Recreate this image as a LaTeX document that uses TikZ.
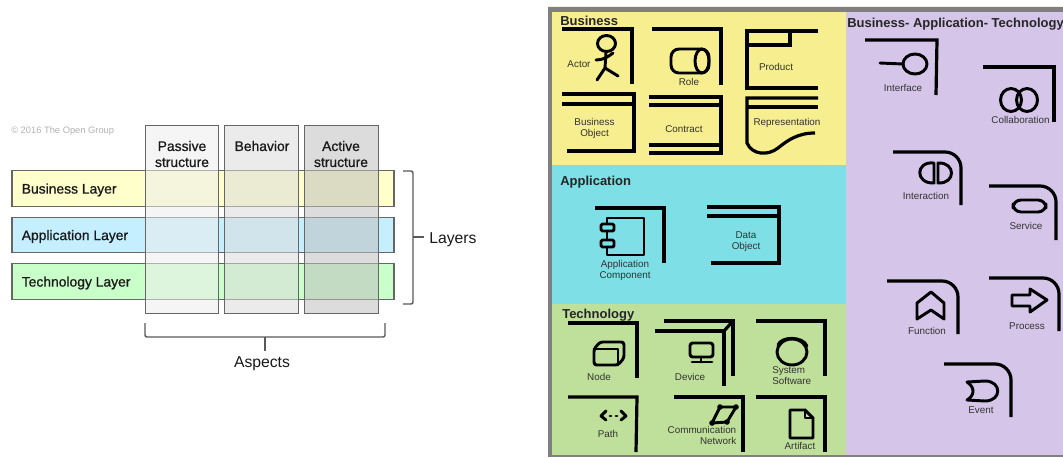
\documentclass[tikz,border=0pt]{standalone}
\usepackage{fontspec}
\setmainfont{Liberation Sans}
\newfontfamily\mediumfont[FakeBold=0.8]{Liberation Sans}
\usepackage{tikz}
\definecolor{BusinessFill}{HTML}{FFFFCC}
\definecolor{ApplicationFill}{HTML}{C5EEFF}
\definecolor{TechnologyFill}{HTML}{C9FFC9}
\definecolor{PanelYellow}{HTML}{F7EE8F}
\definecolor{PanelCyan}{HTML}{7EDFE6}
\definecolor{PanelGreen}{HTML}{BFE09A}
\definecolor{PanelPurple}{HTML}{D5C5E8}
\tikzset{
    LayerBox/.style={draw=black!60, line width=0.8pt, minimum width=286.5pt, minimum height=26.5pt, inner sep=0pt},
    AspectBox/.style={draw=black!60, line width=0.8pt, fill opacity=0.55, minimum width=55pt, minimum height=140.5pt, inner sep=0pt},
    DiagramText/.style={font={\fontsize{10.4pt}{12pt}\mediumfont\selectfont}, align=center, inner sep=0pt, text=black!90, yshift=-0.75pt},
    BigText/.style={font={\fontsize{11.8pt}{13pt}\selectfont}, inner sep=0pt, text=black!90, yshift=-0.75pt},
    BraceLine/.style={draw=black!65, line width=1.1pt, rounded corners=1.5pt},
    TitleText/.style={font={\fontsize{9.75pt}{11pt}\bfseries\selectfont}, inner sep=0pt, anchor=west, text=black!85, yshift=-0.5pt},
    Caption/.style={font={\fontsize{7.4pt}{8.25pt}\selectfont}, align=center, inner sep=0pt, text=black!80, yshift=-0.6pt},
    FrameLine/.style={draw=black, line width=2.4pt},
    RoundFrame/.style={draw=black, line width=2.4pt, rounded corners=12pt},
    IconLine/.style={draw=black, line width=2.2pt, line join=round, line cap=round}
}
\begin{document}
\begin{tikzpicture}[x=0.75pt, y=-0.75pt]
    \useasboundingbox (0,0) rectangle (1063,457);
    % Layers
    \node [LayerBox, fill=BusinessFill] (BusinessLayer) at (203,188.5) {};
    \node [LayerBox, fill=ApplicationFill] (ApplicationLayer) at (203,235) {};
    \node [LayerBox, fill=TechnologyFill] (TechnologyLayer) at (203,281.5) {};
    % Aspects
    \node [AspectBox, fill=black!7] (PassiveAspect) at (182,219.5) {};
    \node [AspectBox, fill=black!14] (BehaviorAspect) at (261.5,219.5) {};
    \node [AspectBox, fill=black!25] (ActiveAspect) at (341.5,219.5) {};
    % Left texts
    \node [DiagramText, anchor=west] (BusinessText) at (21.5,189) {Business Layer};
    \node [DiagramText, anchor=west] (ApplicationText) at (21.5,235.5) {Application Layer};
    \node [DiagramText, anchor=west] (TechnologyText) at (21.5,282) {Technology Layer};
    \node [DiagramText] (PassiveText) at (182,153) {Passive\\structure};
    \node [DiagramText] (BehaviorText) at (262,145) {Behavior};
    \node [DiagramText] (ActiveText) at (341,153) {Active\\structure};
    \node [font={\fontsize{7pt}{8pt}\selectfont}, text=black!30, anchor=west, inner sep=0pt] (CopyText) at (11,131) {© 2016 The Open Group};
    % Braces
    \draw [BraceLine] (403,171) -- (413,171) -- (413,304) -- (403,304);
    \coordinate (LayersTick) at (413,237);
    \node [BigText, anchor=west] (LayersText) at (429,239) {Layers};
    \draw [BraceLine] (LayersTick) -- (424,237);
    \draw [BraceLine] (145,323) -- (145,337) -- (385,337) -- (385,323);
    \coordinate (AspectsTick) at (265,337);
    \node [BigText] (AspectsText) at (262,363) {Aspects};
    \draw [BraceLine] (AspectsTick) -- (265,351);
    % Panels
    \fill [white!85!orange] (548,6) rectangle (1063,7);
    \fill [black!50] (548,7) rectangle (1063,12);
    \fill [black!50] (548,7) rectangle (552,457);
    \fill [PanelYellow] (552,12) rectangle (846,165);
    \fill [PanelCyan] (552,165) rectangle (846,304);
    \fill [PanelGreen] (552,304) rectangle (846,455);
    \fill [PanelPurple] (846,12) rectangle (1063,455);
    \fill [black!50] (552,455) rectangle (1063,457);
    \node [TitleText] (BusinessTitle) at (560,20) {Business};
    \node [TitleText] (ApplicationTitle) at (560,181) {Application};
    \node [TitleText] (TechnologyTitle) at (562,314) {Technology};
    \node [TitleText] (SharedTitle) at (847,23) {Business- Application- Technology};
    % Business
    \draw [FrameLine] (562,29) -- (632,29) -- (632,84);
    \draw [IconLine] (606.5,43.5) ellipse [x radius=9, y radius=8];
    \draw [IconLine] (606,52) -- (605,68) -- (597,80);
    \draw [IconLine] (605,68) -- (618,76);
    \draw [IconLine] (596,60) .. controls (603,60) and (608,57) .. (613,53);
    \node [Caption] (ActorText) at (579,63) {Actor};
    \draw [FrameLine] (652,29) -- (721,29) -- (721,85);
    \draw [IconLine, rounded corners=6pt] (671,49) rectangle (709,73);
    \draw [IconLine] (702,61) ellipse [x radius=7, y radius=12];
    \node [Caption] (RoleText) at (689,81) {Role};
    \draw [FrameLine] (818,31) -- (747,31) -- (747,88) -- (818,88);
    \draw [FrameLine] (747,45) -- (790,45) -- (790,31);
    \node [Caption] (ProductText) at (776,66) {Product};
    \draw [FrameLine] (562,94) -- (634,94) -- (634,151) -- (567,151);
    \draw [FrameLine] (562,104) -- (634,104);
    \node [Caption] (BusinessObjectText) at (594.5,128) {Business\\Object};
    \draw [FrameLine] (649,97) -- (721,97) -- (721,153) -- (649,153);
    \draw [FrameLine] (649,105) -- (721,105);
    \draw [FrameLine] (649,145) -- (721,145);
    \node [Caption] (ContractText) at (684,128) {Contract};
    \draw [FrameLine] (818,98) -- (747,98) -- (747,143) .. controls (752,155) and (768,156) .. (778,148) .. controls (788,140) and (798,133) .. (815,133);
    \draw [FrameLine] (747,107) -- (818,107);
    \node [Caption] (RepresentationText) at (787,122) {Representation};
    % Application
    \draw [FrameLine] (595,208) -- (664,208) -- (664,263);
    \draw [IconLine] (607,224) -- (607,218) -- (644,218) -- (644,255) -- (607,255) -- (607,247);
    \draw [IconLine] (607,231) -- (607,240);
    \draw [IconLine, rounded corners=1pt, fill=PanelCyan] (601,224) rectangle (614,231);
    \draw [IconLine, rounded corners=1pt, fill=PanelCyan] (601,240) rectangle (614,247);
    \node [Caption] (ComponentText) at (625,269.5) {Application\\Component};
    \draw [FrameLine] (707,207) -- (779,207) -- (779,263) -- (711,263);
    \draw [FrameLine] (707,216) -- (779,216);
    \node [Caption] (DataObjectText) at (746,240.5) {Data\\Object};
    % Technology
    \draw [FrameLine] (568,323) -- (637,323) -- (637,378);
    \draw [IconLine, rounded corners=2pt] (594,349) -- (600,342) -- (624,342) -- (624,358) -- (618,365) -- (594,365) -- cycle;
    \draw [IconLine] (594,349) -- (618,349) -- (618,365);
    \node [Caption] (NodeText) at (599,376) {Node};
    \draw [FrameLine] (655,331) -- (724,331) -- (724,386);
    \draw [FrameLine] (664,321) -- (733,321) -- (733,376);
    \draw [FrameLine] (724,331) -- (733,321);
    \draw [IconLine, rounded corners=2pt] (690,343) rectangle (713,357);
    \draw [IconLine] (692,362) -- (712,362);
    \draw [IconLine] (701,357) -- (701,362);
    \node [Caption] (DeviceText) at (690,376) {Device};
    \draw [FrameLine] (756,321) -- (825,321) -- (825,376);
    \draw [IconLine] (792,352) ellipse [x radius=15, y radius=13];
    \draw [IconLine] (778,345) .. controls (781,336) and (803,336) .. (807,346);
    \node [Caption, anchor=north west, align=left] (SystemText) at (772,366) {System\\Software};
    \draw [FrameLine] (568,397) -- (637,397) -- (636,452);
    \draw [IconLine] (606,411) -- (601,416) -- (606,420);
    \draw [IconLine] (621,411) -- (626,416) -- (621,420);
    \draw [IconLine] (610,416) -- (611,416);
    \draw [IconLine] (616,416) -- (617,416);
    \node [Caption] (PathText) at (608,433) {Path};
    \draw [FrameLine] (674,397) -- (743,397) -- (743,452);
    \draw [IconLine] (720,407) -- (736,407) -- (727,422) -- (712,423) -- cycle;
    \fill (720,407) circle [radius=2.8];
    \fill (736,407) circle [radius=2.8];
    \fill (727,422) circle [radius=2.8];
    \fill (712,423) circle [radius=2.8];
    \node [Caption, anchor=north east, align=right] (NetworkText) at (736.5,425.5) {Communication\\Network};
    \draw [FrameLine] (756,397) -- (825,397) -- (825,452);
    \draw [IconLine] (790,410) -- (805,410) -- (813,418) -- (813,438) -- (790,438) -- cycle;
    \draw [IconLine] (805,410) -- (805,418) -- (813,418);
    \node [Caption] (ArtifactText) at (800,445) {Artifact};
    % Business- Application- Technology
    \draw [FrameLine] (865,40) -- (937,40) -- (936,95);
    \draw [IconLine] (915,64) ellipse [x radius=12, y radius=10];
    \draw [IconLine] (880,63) -- (903,64);
    \node [Caption] (InterfaceText) at (903,87) {Interface};
    \draw [FrameLine] (983,67) -- (1054,67) -- (1054,122);
    \draw [IconLine] (1011,100) ellipse [x radius=10.5, y radius=11.5];
    \draw [IconLine] (1027,100) ellipse [x radius=10.5, y radius=11.5];
    \node [Caption] (CollaborationText) at (1020.5,119) {Collaboration};
    \draw [RoundFrame] (893,152) -- (961,152) -- (961,205);
    \draw [IconLine] (934,163) .. controls (915,161) and (915,184) .. (934,183) -- cycle;
    \draw [IconLine] (938,163) .. controls (956,162) and (956,184) .. (938,183) -- cycle;
    \node [Caption] (InteractionText) at (926,195) {Interaction};
    \draw [RoundFrame] (989,186) -- (1056,186) -- (1056,240);
    \draw [IconLine, rounded corners=6pt] (1013,200) rectangle (1046,212);
    \node [Caption] (ServiceText) at (1026,225) {Service};
    \draw [RoundFrame] (887,281) -- (958,281) -- (958,334);
    \draw [IconLine] (931,292) -- (944,303) -- (944,319) -- (931,310) -- (917,319) -- (917,303) -- cycle;
    \node [Caption] (FunctionText) at (927,330) {Function};
    \draw [RoundFrame] (989,278) -- (1059,278) -- (1059,331);
    \draw [IconLine] (1012,295) -- (1030,295) -- (1030,289) -- (1047,300) -- (1030,312) -- (1030,306) -- (1012,306) -- cycle;
    \node [Caption] (ProcessText) at (1027,325) {Process};
    \draw [RoundFrame] (944,364) -- (1011,364) -- (1011,417);
    \draw [IconLine] (967,382) -- (985,381) .. controls (1002,381) and (1002,401) .. (985,401) -- (967,400) .. controls (974,396) and (976,388) .. (967,382) -- cycle;
    \node [Caption] (EventText) at (981,409) {Event};
\end{tikzpicture}
\end{document}
